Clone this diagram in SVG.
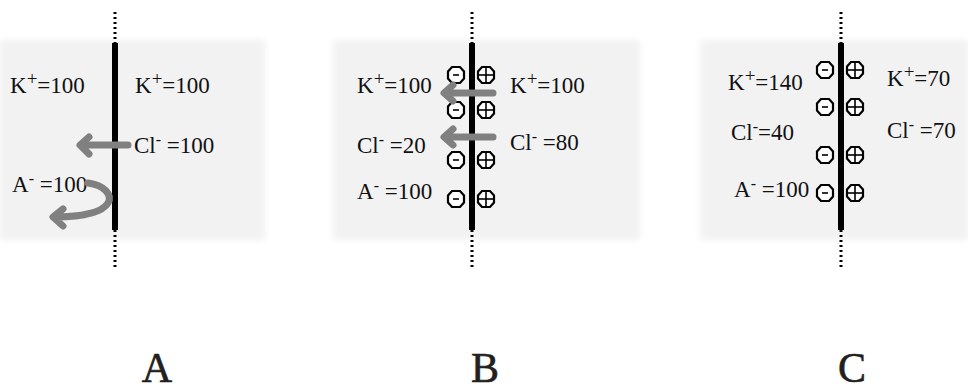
<svg xmlns="http://www.w3.org/2000/svg" width="968" height="391" viewBox="0 0 968 391">
<defs>
<filter id="fz" x="-10%" y="-10%" width="120%" height="120%"><feGaussianBlur stdDeviation="3"/></filter>
<g id="neg"><path d="M-4 -8 L4 -8 L8 -3.5 L8 3.5 L4 8 L-4 8 L-8 3.5 L-8 -3.5 Z" fill="#fff" stroke="#000" stroke-width="2.2"/><line x1="-3" y1="0" x2="3" y2="0" stroke="#000" stroke-width="1.6"/></g>
<g id="pos"><path d="M-4 -8 L4 -8 L8 -3.5 L8 3.5 L4 8 L-4 8 L-8 3.5 L-8 -3.5 Z" fill="#fff" stroke="#000" stroke-width="2.2"/><line x1="-7.5" y1="0" x2="7.5" y2="0" stroke="#000" stroke-width="1.6"/><line x1="0" y1="-7.5" x2="0" y2="7.5" stroke="#000" stroke-width="1.6"/></g>
</defs>
<style>
.bg{fill:#f2f2f2;filter:url(#fz)}
.t{font-family:"Liberation Serif","Times New Roman",serif;font-size:23px;fill:#111}
.sp{font-size:19px}
.sm{font-size:16px}
.lab{font-family:"Liberation Serif","Times New Roman",serif;font-size:42px;fill:#231f20;text-anchor:middle;stroke:#231f20;stroke-width:0.6}
.mem{stroke:#000;stroke-width:6}
.dot{stroke:#000;stroke-width:3;stroke-dasharray:2 3}
.arr{fill:none;stroke:#808080;stroke-width:7;stroke-linecap:round;stroke-linejoin:round}
</style>
<rect width="968" height="391" fill="#fff"/>

<g id="panelA">
<rect class="bg" x="0" y="40" width="265" height="200"/>
<line class="dot" x1="115" y1="12" x2="115" y2="43"/>
<line class="dot" x1="115" y1="230" x2="115" y2="268"/>
<line class="mem" x1="115" y1="43" x2="115" y2="230"/>
<text class="t" x="10" y="93">K<tspan class="sp" dy="-8">+</tspan><tspan dy="8">=100</tspan></text>
<text class="t" x="135" y="93">K<tspan class="sp" dy="-8">+</tspan><tspan dy="8">=100</tspan></text>
<text class="t" x="134" y="153">Cl<tspan class="sm" dy="-8">-</tspan><tspan dy="8"> =100</tspan></text>
<text class="t" x="12" y="192">A<tspan class="sm" dy="-8">-</tspan><tspan dy="8"> =100</tspan></text>
</g>

<g id="panelB">
<rect class="bg" x="333" y="40" width="307" height="200"/>
<line class="dot" x1="472" y1="12" x2="472" y2="43"/>
<line class="dot" x1="472" y1="230" x2="472" y2="268"/>
<line class="mem" x1="472" y1="43" x2="472" y2="230"/>
<use href="#neg" x="456" y="75"/><use href="#pos" x="486" y="75"/>
<use href="#neg" x="456" y="110"/><use href="#pos" x="486" y="110"/>
<use href="#neg" x="456" y="160"/><use href="#pos" x="486" y="160"/>
<use href="#neg" x="456" y="199"/><use href="#pos" x="486" y="199"/>
<text class="t" x="357" y="93">K<tspan class="sp" dy="-8">+</tspan><tspan dy="8">=100</tspan></text>
<text class="t" x="357" y="153">Cl<tspan class="sm" dy="-8">-</tspan><tspan dy="8"> =20</tspan></text>
<text class="t" x="357" y="199">A<tspan class="sm" dy="-8">-</tspan><tspan dy="8"> =100</tspan></text>
<text class="t" x="510" y="93">K<tspan class="sp" dy="-8">+</tspan><tspan dy="8">=100</tspan></text>
<text class="t" x="510" y="150">Cl<tspan class="sm" dy="-8">-</tspan><tspan dy="8"> =80</tspan></text>
</g>

<g id="panelC">
<rect class="bg" x="700" y="40" width="268" height="200"/>
<line class="dot" x1="841" y1="12" x2="841" y2="43"/>
<line class="dot" x1="841" y1="230" x2="841" y2="268"/>
<line class="mem" x1="841" y1="43" x2="841" y2="230"/>
<use href="#neg" x="825" y="70"/><use href="#pos" x="855" y="70"/>
<use href="#neg" x="825" y="107"/><use href="#pos" x="855" y="107"/>
<use href="#neg" x="825" y="155"/><use href="#pos" x="855" y="155"/>
<use href="#neg" x="825" y="193"/><use href="#pos" x="855" y="193"/>
<text class="t" x="728" y="90">K<tspan class="sp" dy="-8">+</tspan><tspan dy="8">=140</tspan></text>
<text class="t" x="731" y="140">Cl<tspan class="sm" dy="-8">-</tspan><tspan dy="8">=40</tspan></text>
<text class="t" x="734" y="197">A<tspan class="sm" dy="-8">-</tspan><tspan dy="8"> =100</tspan></text>
<text class="t" x="887" y="86">K<tspan class="sp" dy="-8">+</tspan><tspan dy="8">=70</tspan></text>
<text class="t" x="887" y="138">Cl<tspan class="sm" dy="-8">-</tspan><tspan dy="8"> =70</tspan></text>
</g>

<g id="connectors">
<path class="arr" d="M128 145 L81 145 M89 137 L80 145 L89 154"/>
<path class="arr" d="M88 183 C104 185 113 195 108 203 C102 213 80 217 55 217 M63 209 L53 217 L63 226"/>
<path class="arr" d="M493 93 L445 93 M453 85 L444 93 L453 101"/>
<path class="arr" d="M493 137 L445 137 M453 129 L444 137 L453 145"/>
</g>

<g id="labels">
<text class="lab" x="157" y="382">A</text>
<text class="lab" x="485" y="382">B</text>
<text class="lab" x="852" y="382">C</text>
</g>
</svg>
